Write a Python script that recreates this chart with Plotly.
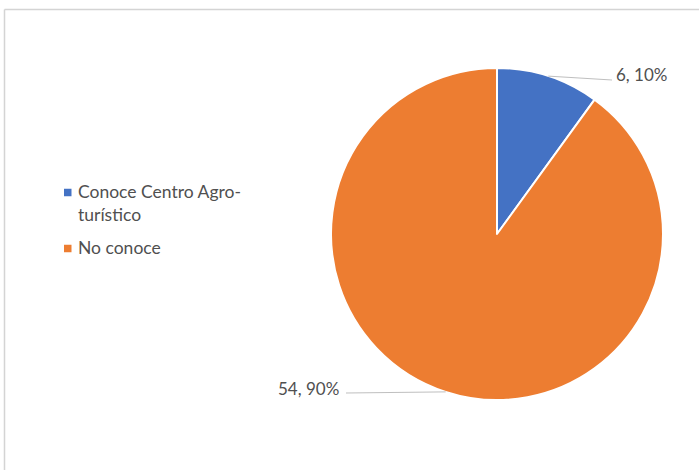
import math
import plotly.graph_objects as go

# Survey answers: knows the agro-tourism centre or not
labels = ["Conoce Centro Agro-turístico", "No conoce"]
values = [6, 54]
colors = ["#4472C4", "#ED7D31"]

W, H = 699, 470
CX, CY, R = 497, 234, 166          # pie centre / radius in pixels
TEXT = "#505050"
FONT = "Lato"


def px(x):
    return x / W


def py(y):
    return 1 - y / H


fig = go.Figure(
    go.Pie(
        labels=labels,
        values=values,
        marker=dict(colors=colors, line=dict(color="white", width=2)),
        sort=False,
        direction="clockwise",
        rotation=0,
        textinfo="none",
        hoverinfo="label+value+percent",
        showlegend=False,
        domain=dict(x=[px(CX - R), px(CX + R)], y=[py(CY + R), py(CY - R)]),
    )
)

total = sum(values)
shapes = []
annotations = []

# chart frame (top and left edges visible)
shapes.append(dict(type="line", xref="paper", yref="paper",
                   x0=px(4.5), x1=px(W), y0=py(9.5), y1=py(9.5),
                   line=dict(color="#d4d4d4", width=1.5)))
shapes.append(dict(type="line", xref="paper", yref="paper",
                   x0=px(4.5), x1=px(4.5), y0=py(9.5), y1=py(H),
                   line=dict(color="#d4d4d4", width=1.5)))

# data labels with leader lines from each slice's mid-angle
label_pos = [(612, 80, 614, 75, "left"), (346, 393, 341, 388, "right")]
start = 0.0
for v, (lx, ly, tx, ty, anchor) in zip(values, label_pos):
    frac = v / total
    mid = (start + frac / 2) * 2 * math.pi
    start += frac
    ex = CX + R * math.sin(mid)
    ey = CY - R * math.cos(mid)
    shapes.append(dict(type="line", xref="paper", yref="paper",
                       x0=px(ex), y0=py(ey), x1=px(lx), y1=py(ly),
                       line=dict(color="#bfbfbf", width=1)))
    annotations.append(dict(xref="paper", yref="paper", x=px(tx), y=py(ty),
                            xanchor=anchor, yanchor="middle", showarrow=False,
                            text=f"{v}, {round(frac * 100)}%",
                            font=dict(family=FONT, size=17, color=TEXT)))

# legend
legend_rows = [(192.5, 203), (248.5, 247)]
for lab, col, (sq_y, txt_y) in zip(labels, colors, legend_rows):
    shapes.append(dict(type="rect", xref="paper", yref="paper",
                       x0=px(64), x1=px(71.5), y0=py(sq_y - 3.75), y1=py(sq_y + 3.75),
                       fillcolor=col, line=dict(width=0)))
    annotations.append(dict(xref="paper", yref="paper", x=px(76), y=py(txt_y),
                            xanchor="left", yanchor="middle", align="left",
                            showarrow=False, text=lab.replace("Agro-", "Agro-<br>"),
                            font=dict(family=FONT, size=17.5, color=TEXT)))

fig.update_layout(
    width=W, height=H,
    margin=dict(l=0, r=0, t=0, b=0),
    paper_bgcolor="white",
    plot_bgcolor="white",
    shapes=shapes,
    annotations=annotations,
)

fig.write_html("out.html")
